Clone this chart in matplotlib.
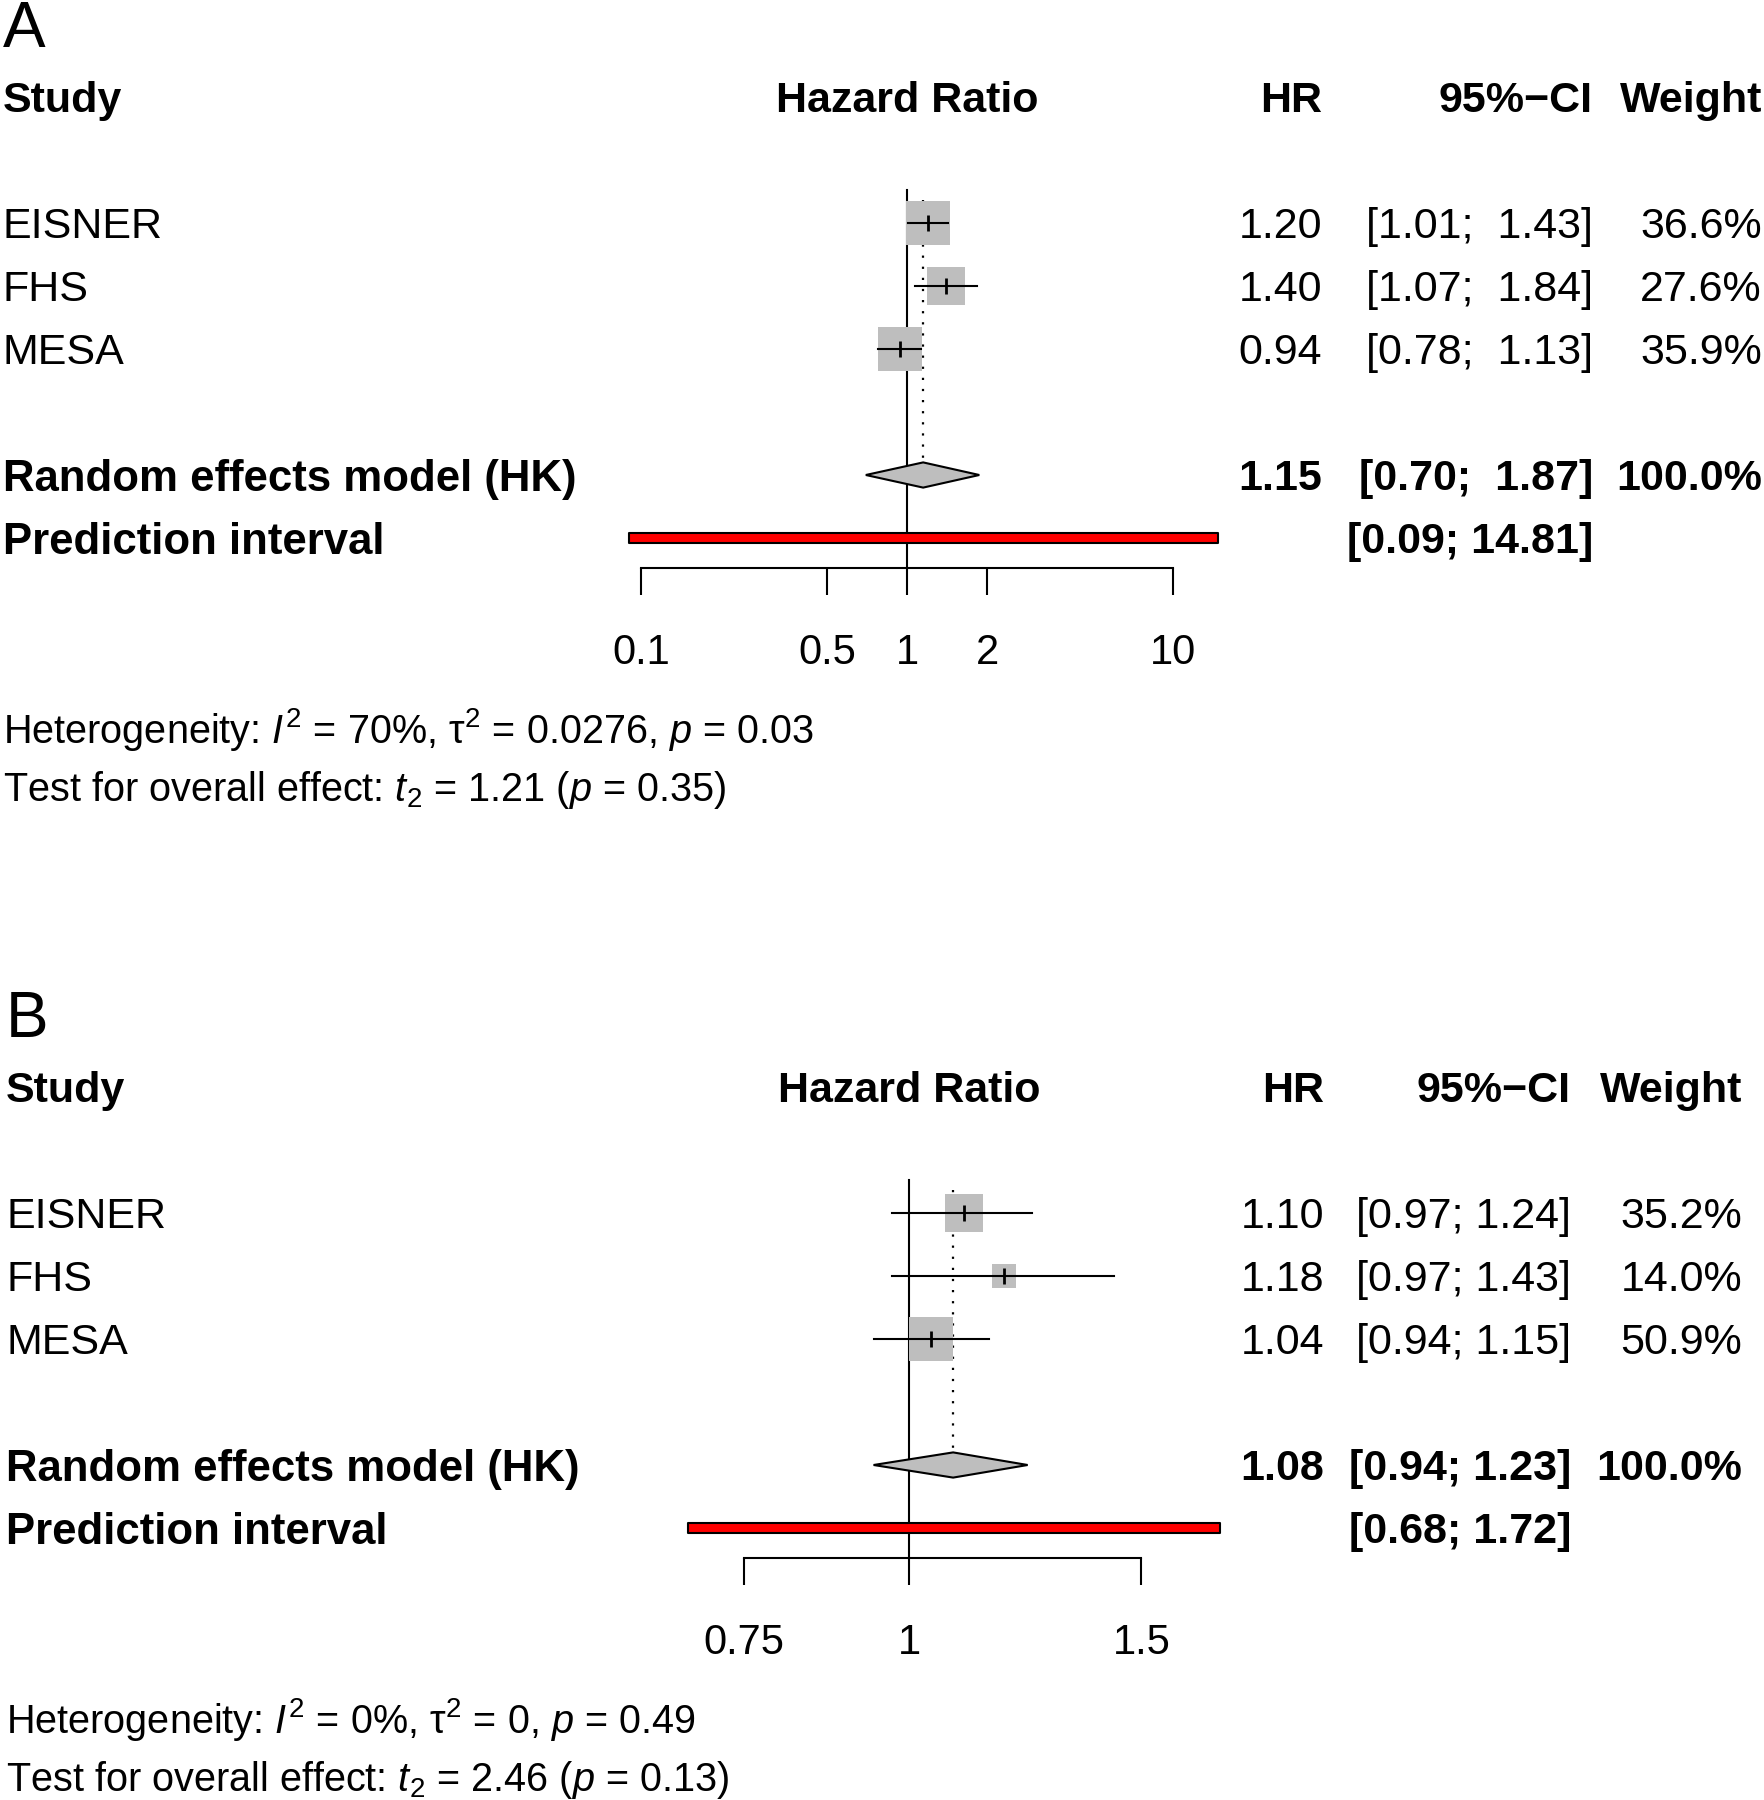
import matplotlib
matplotlib.use('Agg')
import matplotlib.pyplot as plt
import matplotlib.transforms as mtransforms
from matplotlib.ticker import NullLocator

plt.rcParams['font.family'] = ['Liberation Sans', 'DejaVu Sans']
plt.rcParams['mathtext.fontset'] = 'custom'
plt.rcParams['mathtext.rm'] = 'Liberation Sans'
plt.rcParams['mathtext.it'] = 'Liberation Sans:italic'
plt.rcParams['mathtext.bf'] = 'Liberation Sans:bold'

# data
studies = ['EISNER', 'FHS', 'MESA']

a_hr = [1.20, 1.40, 0.94]
a_lo = [1.01, 1.07, 0.78]
a_hi = [1.43, 1.84, 1.13]
a_w = [36.6, 27.6, 35.9]
a_re = [1.15, 0.70, 1.87]
a_pi = [0.09, 14.81]
a_ticks = [0.1, 0.5, 1, 2, 10]
a_ticklabels = ['0.1', '0.5', '1', '2', '10']
a_het = r"Heterogeneity: $I^2$ = 70%, τ$^2$ = 0.0276, $p$ = 0.03"
a_test = r"Test for overall effect: $t_2$ = 1.21 ($p$ = 0.35)"

b_hr = [1.10, 1.18, 1.04]
b_lo = [0.97, 0.97, 0.94]
b_hi = [1.24, 1.43, 1.15]
b_w = [35.2, 14.0, 50.9]
b_re = [1.08, 0.94, 1.23]
b_pi = [0.68, 1.72]
b_ticks = [0.75, 1, 1.5]
b_ticklabels = ['0.75', '1', '1.5']
b_het = r"Heterogeneity: $I^2$ = 0%, τ$^2$ = 0, $p$ = 0.49"
b_test = r"Test for overall effect: $t_2$ = 2.46 ($p$ = 0.13)"

W, H = 1764, 1800
FS = 31
FS_FOOT = 28.5
ROW = 63  # pixels per row
GRAY = '#BEBEBE'

fig = plt.figure(figsize=(W / 100, H / 100), dpi=100)


def cap_off(size):
    # half of the cap height, in rows
    return size * 100 / 72 * 0.716 / 2 / ROW


def draw_panel(letter, y0, x1, decade, label_x, cols, hr, lo, hi, w, re, pi,
               ticks, ticklabels, het, test):
    axis_row = 7.48
    top_row = -1.7
    bottom_px = y0 + axis_row * ROW
    top_px = y0 + top_row * ROW
    ax = fig.add_axes([0, 1 - bottom_px / H, 1, (bottom_px - top_px) / H])
    ax.set_xscale('log')
    ax.set_xlim(10 ** (-x1 / decade), 10 ** ((W - x1) / decade))
    ax.set_ylim(axis_row, top_row)
    ax.patch.set_alpha(0)
    for s in ['top', 'left', 'right']:
        ax.spines[s].set_visible(False)
    ax.spines['bottom'].set_bounds(ticks[0], ticks[-1])
    ax.spines['bottom'].set_linewidth(1.5)
    ax.set_yticks([])
    ax.set_xticks(ticks, labels=ticklabels)
    ax.xaxis.set_minor_locator(NullLocator())
    ax.tick_params(axis='x', direction='out', length=19.5, width=1.5,
                   labelsize=FS - 1, pad=27)

    trans = mtransforms.blended_transform_factory(fig.transFigure, ax.transData)

    def txt(xpx, row, s, ha='left', bold=False, size=FS):
        ax.text(xpx / W, row + cap_off(size), s, transform=trans, ha=ha,
                va='baseline', fontsize=size,
                fontweight='bold' if bold else 'normal', clip_on=False)

    rows = [2, 3, 4]
    re_row, pi_row = 6, 7

    # lines at 1 and at the pooled estimate
    ax.plot([1, 1], [rows[0] - 0.52, axis_row], color='black', lw=1.5)
    ax.plot([re[0], re[0]], [rows[0] - 0.37, re_row - 0.2], color='black',
            lw=1.6, linestyle=(0, (1, 4)))

    # study boxes and CIs
    wmax = max(w)
    for i in range(len(hr)):
        side = 44.5 * (w[i] / wmax) ** 0.5 * 0.72
        ax.plot(hr[i], rows[i], marker='s', ms=side, color=GRAY, mew=0)
        ax.plot([lo[i], hi[i]], [rows[i], rows[i]], color='black', lw=1.5)
        ax.plot(hr[i], rows[i], marker='|', ms=11, mew=2, color='black')

    # diamond
    ax.fill([re[1], re[0], re[2], re[0]],
            [re_row, re_row - 0.2, re_row, re_row + 0.2],
            facecolor=GRAY, edgecolor='black', lw=1.5, zorder=3)

    # prediction interval
    ax.fill_between(pi, pi_row - 0.08, pi_row + 0.08, facecolor='red',
                    edgecolor='black', lw=1.5, zorder=3)

    # texts
    ax.text(label_x / W, -1.15 + cap_off(46), letter, transform=trans,
            ha='left', va='baseline', fontsize=46)
    hx, cx, wx = cols
    txt(label_x, 0, 'Study', bold=True)
    ax.text(1, 0 + cap_off(FS), 'Hazard Ratio', ha='center', va='baseline',
            fontsize=FS, fontweight='bold')
    txt(hx, 0, 'HR', ha='right', bold=True)
    txt(cx, 0, '95%\u2212CI', ha='right', bold=True)
    txt(wx, 0, 'Weight', ha='right', bold=True)

    width = max(len(f"{v:.2f}") for v in list(hi) + [re[2], pi[1]])
    for i in range(len(hr)):
        txt(label_x, rows[i], studies[i])
        txt(hx, rows[i], f"{hr[i]:.2f}", ha='right')
        txt(cx, rows[i], f"[{lo[i]:.2f}; {hi[i]:{width}.2f}]", ha='right')
        txt(wx, rows[i], f"{w[i]:.1f}%", ha='right')

    txt(label_x, re_row, 'Random effects model (HK)', bold=True, size=FS + 0.5)
    txt(hx, re_row, f"{re[0]:.2f}", ha='right', bold=True)
    txt(cx, re_row, f"[{re[1]:.2f}; {re[2]:{width}.2f}]", ha='right', bold=True)
    txt(wx, re_row, '100.0%', ha='right', bold=True)
    txt(label_x, pi_row, 'Prediction interval', bold=True, size=FS + 0.5)
    txt(cx, pi_row, f"[{pi[0]:.2f}; {pi[1]:{width}.2f}]", ha='right', bold=True)

    txt(label_x, 10.03, het, size=FS_FOOT)
    txt(label_x, 10.95, test, size=FS_FOOT)


draw_panel('A', 97, 907, 266, 3, (1322, 1593, 1762),
           a_hr, a_lo, a_hi, a_w, a_re, a_pi, a_ticks, a_ticklabels, a_het, a_test)
draw_panel('B', 1087, 909, 1320, 6, (1324, 1571, 1742),
           b_hr, b_lo, b_hi, b_w, b_re, b_pi, b_ticks, b_ticklabels, b_het, b_test)

fig.savefig('out.png', dpi=100)
